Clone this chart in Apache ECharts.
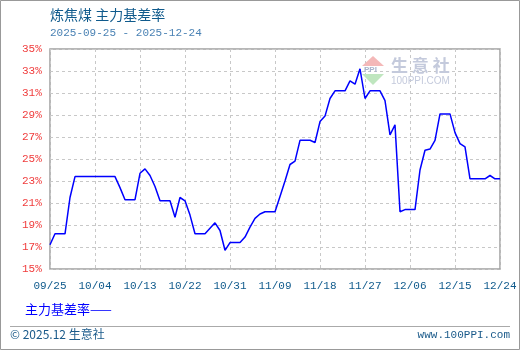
<!DOCTYPE html>
<html><head><meta charset="utf-8">
<script src="https://cdn.jsdelivr.net/npm/echarts@6/dist/echarts.min.js"></script>
<style>html,body{margin:0;padding:0;background:#fff}#c{width:520px;height:350px}</style>
</head><body><div id="c"></div>
<script>
const titleText = '炼焦煤 主力基差率';
const subtitleText = '2025-09-25 - 2025-12-24';
const seriesName = '主力基差率';
const footerLeft = '© 2025.12 生意社';
const footerRight = 'www.100PPI.com';
const startDate = [2025, 9, 25];
const dayCount = 91;
const values = [
  17.2, 18.2, 18.2, 18.2, 21.5, 23.4, 23.4, 23.4, 23.4, 23.4,
  23.4, 23.4, 23.4, 23.4, 22.4, 21.3, 21.3, 21.3, 23.7, 24.1,
  23.5, 22.5, 21.2, 21.2, 21.2, 19.7, 21.5, 21.2, 19.9, 18.2,
  18.2, 18.2, 18.7, 19.2, 18.5, 16.7, 17.4, 17.4, 17.4, 17.9,
  18.8, 19.6, 20.0, 20.2, 20.2, 20.2, 21.6, 23.0, 24.5, 24.8,
  26.7, 26.7, 26.7, 26.5, 28.4, 28.9, 30.5, 31.2, 31.2, 31.2,
  32.1, 31.8, 33.2, 30.5, 31.2, 31.2, 31.2, 30.3, 27.2, 28.1,
  20.2, 20.4, 20.4, 20.4, 24.0, 25.8, 25.9, 26.7, 29.1, 29.1,
  29.1, 27.4, 26.4, 26.1, 23.2, 23.2, 23.2, 23.2, 23.5, 23.2,
  23.2
];
const yMin = 15, yMax = 35, yStep = 2;

const categories = [];
for (let i = 0; i < dayCount; i++) {
  const d = new Date(Date.UTC(startDate[0], startDate[1] - 1, startDate[2] + i));
  const mm = String(d.getUTCMonth() + 1).padStart(2, '0');
  const dd = String(d.getUTCDate()).padStart(2, '0');
  categories.push(mm + '/' + dd);
}

const chart = echarts.init(document.getElementById('c'), null, {renderer: 'canvas'});
const mono = '"Liberation Mono", "DejaVu Sans Mono", monospace';
const cjk = '"Noto Sans CJK SC", sans-serif';
chart.setOption({
  animation: false,
  backgroundColor: '#fff',
  grid: {left: 50, top: 49, right: 20, bottom: 81, show: true, borderColor: '#a0a0a0', borderWidth: 1.5},
  xAxis: {
    type: 'category', data: categories, boundaryGap: false,
    axisLine: {show: false}, axisTick: {show: false},
    axisLabel: {interval: 8, color: '#0f5a8c', fontFamily: mono, fontSize: 11, margin: 12},
    splitLine: {show: true, interval: 8, lineStyle: {color: '#c8c8c8', type: [3, 3], width: 1}}
  },
  yAxis: {
    type: 'value', min: yMin, max: yMax, interval: yStep,
    axisLine: {show: false}, axisTick: {show: false},
    axisLabel: {formatter: '{value}%', color: '#f03c3c', fontFamily: mono, fontSize: 11, margin: 28, align: 'left'},
    splitLine: {show: true, lineStyle: {color: '#c8c8c8', type: [3, 3], width: 1}}
  },
  series: [{
    name: seriesName, type: 'line', data: values, symbol: 'none',
    lineStyle: {color: '#0000ff', width: 1.5}
  }],
  graphic: [
    {type: 'rect', shape: {x: 0.5, y: 0.5, width: 519, height: 349}, style: {fill: 'none', stroke: '#999', lineWidth: 1}, z: 100},
    {type: 'text', left: 50, top: 8, style: {text: titleText, fill: '#0f5a8c', font: '14px ' + cjk}},
    {type: 'text', left: 50, top: 28, style: {text: subtitleText, fill: '#4a82b4', font: '11px ' + mono}},
    {type: 'text', left: 25, top: 303, style: {text: seriesName + '——', fill: '#0000ff', font: '13px ' + cjk}},
    {type: 'line', shape: {x1: 10, y1: 326.5, x2: 510, y2: 326.5}, style: {stroke: '#aaa', lineWidth: 1}},
    {type: 'text', left: 10, top: 328, style: {text: footerLeft, fill: '#1a5a8a', font: '12px ' + cjk}},
    {type: 'text', right: 10, top: 330, style: {text: footerRight, fill: '#1a5a8a', font: '11px ' + mono}},
    {type: 'polygon', shape: {points: [[373, 56], [362, 66], [384, 66]]}, style: {fill: '#f4b8b8'}, z: 1},
    {type: 'polygon', shape: {points: [[362, 74], [384, 74], [373, 85]]}, style: {fill: '#bfe6bf'}, z: 1},
    {type: 'text', left: 364, top: 66, style: {text: 'PPI', fill: '#a8b4cc', font: 'bold 8px sans-serif'}, z: 1},
    {type: 'text', left: 391, top: 57, style: {text: '生 意 社', fill: '#c4cadc', font: 'bold 17px ' + cjk}, z: 1},
    {type: 'text', left: 391, top: 76, style: {text: '100PPI.COM', fill: '#c4cadc', font: '10px sans-serif'}, z: 1}
  ]
});
</script>
</body></html>
